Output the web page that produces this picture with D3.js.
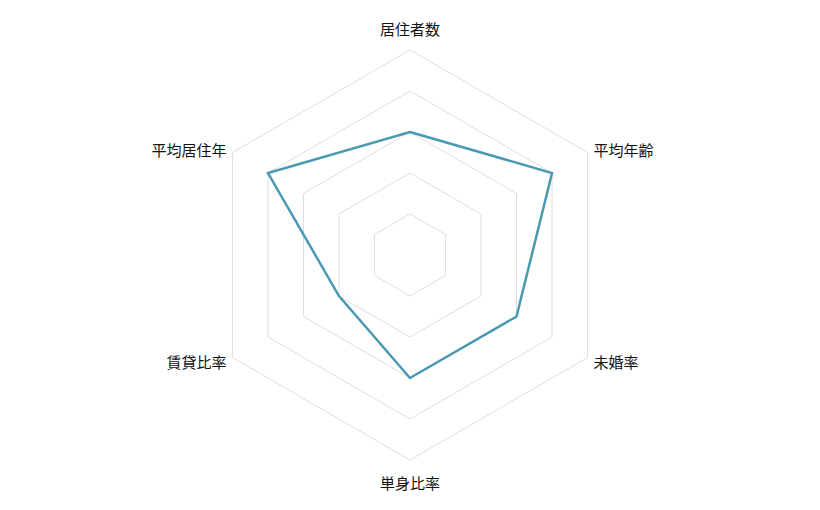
<!DOCTYPE html>
<html lang="ja">
<head>
<meta charset="UTF-8">
<title>Radar</title>
<script src="https://d3js.org/d3.v7.min.js"></script>
<style>
  body { margin: 0; background: #fff; }
  svg text { font-family: "Noto Sans CJK JP", "Noto Sans", sans-serif; }
</style>
</head>
<body>
<script>
var w = 820, h = 510;
var cx = 410, cy = 255, radius = 205;

// axis names, clockwise from top
var axes = ["居住者数", "平均年齢", "未婚率", "単身比率", "賃貸比率", "平均居住年"];
var values = [3, 4, 3, 3, 2, 4];
var levels = [1, 2, 3, 4, 5];
var maxValue = 5;

var rScale = d3.scaleLinear().domain([0, maxValue]).range([0, radius]);
var angle = d3.scalePoint().domain(axes).range([0, 2 * Math.PI * (axes.length - 1) / axes.length]);

function pt(name, r) {
  var a = angle(name);
  return [cx + r * Math.sin(a), cy - r * Math.cos(a)];
}

var svg = d3.select("body").append("svg")
  .attr("width", w)
  .attr("height", h);

// grid hexagons
svg.selectAll("polygon.grid")
  .data(levels)
  .enter()
  .append("polygon")
  .attr("class", "grid")
  .attr("points", function(l) {
    return axes.map(function(a) { return pt(a, rScale(l)).join(","); }).join(" ");
  })
  .attr("fill", "none")
  .attr("stroke", "#dedede")
  .attr("stroke-width", 1);

// data line
svg.append("polygon")
  .attr("points", axes.map(function(a, i) { return pt(a, rScale(values[i])).join(","); }).join(" "))
  .attr("fill", "none")
  .attr("stroke", "#4a99b3")
  .attr("stroke-width", 2.5)
  .attr("stroke-linejoin", "miter");

// axis labels
svg.selectAll("text.lbl")
  .data(axes)
  .enter()
  .append("text")
  .attr("class", "lbl")
  .each(function(a) {
    var p = pt(a, radius + 7);
    var c = Math.cos(angle(a)), s = Math.sin(angle(a));
    var anchor = Math.abs(s) < 0.01 ? "middle" : (s > 0 ? "start" : "end");
    var dy = Math.abs(s) < 0.01 ? (c > 0 ? -15 : 15) : 0;
    d3.select(this)
      .attr("x", p[0])
      .attr("y", p[1] + dy)
      .attr("text-anchor", anchor)
      .attr("dominant-baseline", "central");
  })
  .attr("font-size", 15)
  .attr("fill", "#111")
  .text(function(d) { return d; });
</script>
</body>
</html>
